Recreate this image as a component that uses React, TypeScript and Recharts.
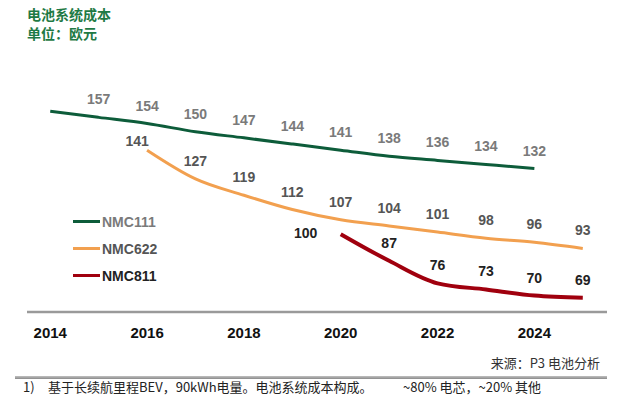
import React from 'react';
import { LineChart, Line, XAxis, YAxis } from 'recharts';

const years = [2014, 2015, 2016, 2017, 2018, 2019, 2020, 2021, 2022, 2023, 2024, 2025];
const nmc111 = [160, 157, 154, 150, 147, 144, 141, 138, 136, 134, 132, null];
const nmc622 = [null, null, 141, 127, 119, 112, 107, 104, 101, 98, 96, 93];
const nmc811 = [null, null, null, null, null, null, 100, 87, 76, 73, 70, 69];
const tickYears = [2014, 2016, 2018, 2020, 2022, 2024];

const series = [
  { key: 'NMC111', color: '#0d5c3a', text: '#7a7a7a', width: 3 },
  { key: 'NMC622', color: '#f2a04f', text: '#555555', width: 3 },
  { key: 'NMC811', color: '#a0000e', text: '#222222', width: 4 },
];

const data = years.map((year, i) => ({
  year,
  NMC111: nmc111[i],
  NMC622: nmc622[i],
  NMC811: nmc811[i],
}));

const numFont = '"Liberation Sans", Arial, sans-serif';
const cjkFont = '"Noto Sans CJK SC", "Liberation Sans", sans-serif';

const makeLabel = (key: string, fill: string) => (props: any) => {
  const { x, y, value, index } = props;
  if (value == null) return null;
  if (key === 'NMC111' && index === 0) return null;
  let dx = 0;
  let dy = -13;
  if (key === 'NMC622' && index === 2) {
    dx = -10;
    dy = -4;
  }
  if (key === 'NMC811' && index === 6) {
    dx = -35;
    dy = 4;
  }
  return (
    <text
      x={x + dx}
      y={y + dy}
      textAnchor="middle"
      fill={fill}
      fontSize={14}
      fontWeight="bold"
      fontFamily={numFont}
    >
      {value}
    </text>
  );
};

const App: React.FC = () => {
  return (
    <div style={{ position: 'absolute', left: 0, top: 0, width: 620, height: 410, background: '#fff' }}>
      <div style={{ position: 'absolute', left: 27, top: 5, fontFamily: cjkFont, fontWeight: 'bold', fontSize: 14, color: '#1f7a45', lineHeight: '19px' }}>
        <div>电池系统成本</div>
        <div>单位：欧元</div>
      </div>
      <LineChart width={620} height={410} data={data} margin={{ top: 60, right: 13, bottom: 68, left: 27 }}>
        <XAxis
          dataKey="year"
          type="number"
          domain={[2013.52, 2025.5]}
          allowDataOverflow
          ticks={tickYears}
          height={30}
          tickSize={0}
          tickMargin={15}
          axisLine={{ stroke: '#9a9a9a', strokeWidth: 2.5 }}
          tick={{ fill: '#111', fontSize: 15, fontWeight: 'bold', fontFamily: numFont }}
        />
        <YAxis hide domain={[62, 185]} />
        {series.map((s) => (
          <Line
            key={s.key}
            dataKey={s.key}
            type="monotone"
            stroke={s.color}
            strokeWidth={s.width}
            dot={false}
            activeDot={false}
            connectNulls={false}
            isAnimationActive={false}
            label={makeLabel(s.key, s.text)}
          />
        ))}
      </LineChart>
      <div style={{ position: 'absolute', left: 73, top: 208 }}>
        {series.map((s) => (
          <div key={s.key} style={{ display: 'flex', alignItems: 'center', height: 27 }}>
            <div style={{ width: 27, height: 3, background: s.color, marginRight: 2 }} />
            <span style={{ fontFamily: numFont, fontWeight: 'bold', fontSize: 14, color: s.text }}>{s.key}</span>
          </div>
        ))}
      </div>
      <div style={{ position: 'absolute', right: 20, top: 354, fontFamily: cjkFont, fontSize: 13, color: '#333', lineHeight: '18px' }}>
        来源：P3 电池分析
      </div>
      <div style={{ position: 'absolute', left: 15, top: 376, width: 592, height: 3, background: 'linear-gradient(#c0c0c0, #8a8a8a)' }} />
      <div style={{ position: 'absolute', left: 23, top: 378, fontFamily: cjkFont, fontSize: 13, color: '#222', lineHeight: '18px' }}>1)</div>
      <div style={{ position: 'absolute', left: 48, top: 378, fontFamily: cjkFont, fontSize: 13, color: '#222', lineHeight: '18px', whiteSpace: 'nowrap' }}>
        基于长续航里程BEV，90kWh电量。电池系统成本构成。
      </div>
      <div style={{ position: 'absolute', left: 403, top: 378, fontFamily: cjkFont, fontSize: 13, color: '#222', lineHeight: '18px', whiteSpace: 'nowrap' }}>
        ~80% 电芯，~20% 其他
      </div>
    </div>
  );
};

export default App;
